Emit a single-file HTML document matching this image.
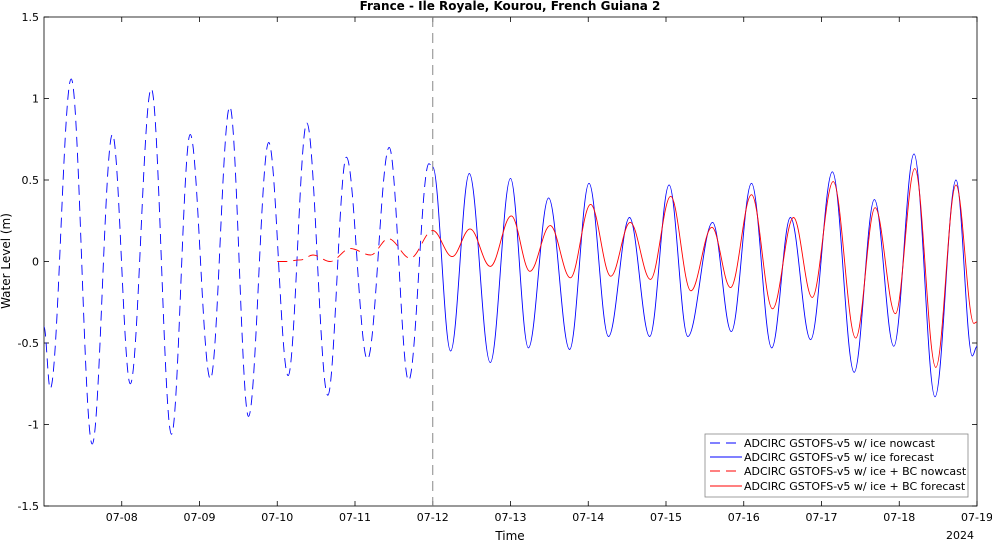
<!DOCTYPE html>
<html><head><meta charset="utf-8"><style>
body{margin:0;background:#fff;font-family:"Liberation Sans",sans-serif}
svg text{font-family:"DejaVu Sans","Liberation Sans",sans-serif;font-size:11px}
</style></head><body>
<svg id="c" width="992" height="541" xmlns="http://www.w3.org/2000/svg">
<rect x="44" y="17" width="933" height="489" fill="#fff" stroke="#000" stroke-width="0.8"/>
<text x="510" y="10" text-anchor="middle" font-weight="bold" style="font-size:12px">France - Ile Royale, Kourou, French Guiana 2</text>
<text x="510" y="540" text-anchor="middle" style="font-size:12px">Time</text>
<text x="960" y="539" text-anchor="middle">2024</text>
<text transform="translate(10,261) rotate(-90)" text-anchor="middle" style="font-size:12px">Water Level (m)</text>
<g id="ticks"></g><g id="series"></g>
<g>
<rect x="705" y="434" width="263" height="63" fill="#fff" stroke="#888" stroke-width="0.8"/>
<line x1="710" y1="443" x2="742" y2="443" stroke="#00f" stroke-dasharray="10,6"/><text x="744" y="447">ADCIRC GSTOFS-v5 w/ ice nowcast</text>
<line x1="710" y1="457" x2="742" y2="457" stroke="#00f"/><text x="744" y="461">ADCIRC GSTOFS-v5 w/ ice forecast</text>
<line x1="710" y1="471" x2="742" y2="471" stroke="#f00" stroke-dasharray="10,6"/><text x="744" y="475">ADCIRC GSTOFS-v5 w/ ice + BC nowcast</text>
<line x1="710" y1="486" x2="742" y2="486" stroke="#f00"/><text x="744" y="490">ADCIRC GSTOFS-v5 w/ ice + BC forecast</text>
</g>
</svg>
<script>
const xTickLabels=["07-08","07-09","07-10","07-11","07-12","07-13","07-14","07-15","07-16","07-17","07-18","07-19"];
const yTicks=[-1.5,-1,-0.5,0,0.5,1,1.5];
const yTickLabels=["-1.5","-1","-0.5","0","0.5","1","1.5"];
// extrema times (pixel-read, days since 07-07) and values (m)
const iceNowT=[0,0.08,0.35,0.62,0.88,1.11,1.38,1.64,1.88,2.14,2.39,2.63,2.89,3.14,3.38,3.65,3.89,4.16,4.44,4.69,4.95,5.0];
const iceNowV=[-0.40,-0.78,1.12,-1.12,0.78,-0.75,1.06,-1.06,0.78,-0.72,0.95,-0.95,0.73,-0.70,0.85,-0.82,0.64,-0.60,0.70,-0.73,0.60,0.58];
const iceFcT=[5.0,5.23,5.47,5.74,6.0,6.23,6.49,6.76,7.01,7.26,7.53,7.79,8.04,8.28,8.60,8.84,9.10,9.36,9.60,9.86,10.14,10.42,10.68,10.93,11.19,11.46,11.73,11.94,12.0];
const iceFcV=[0.58,-0.55,0.54,-0.62,0.51,-0.53,0.39,-0.54,0.48,-0.46,0.27,-0.46,0.47,-0.46,0.24,-0.43,0.48,-0.53,0.27,-0.48,0.55,-0.68,0.38,-0.52,0.66,-0.83,0.50,-0.58,-0.52];
const bcNowT=[3.0,3.1,3.3,3.46,3.68,3.94,4.2,4.43,4.71,5.0];
const bcNowV=[0.0,0.0,0.01,0.04,0.0,0.08,0.04,0.14,0.02,0.19];
const bcFcT=[5.0,5.25,5.48,5.74,6.01,6.25,6.51,6.77,7.03,7.29,7.54,7.80,8.06,8.32,8.59,8.83,9.10,9.37,9.64,9.88,10.15,10.44,10.69,10.95,11.20,11.47,11.73,11.96,12.0];
const bcFcV=[0.19,0.03,0.20,-0.03,0.28,-0.06,0.22,-0.10,0.35,-0.09,0.24,-0.11,0.40,-0.18,0.21,-0.16,0.41,-0.29,0.27,-0.22,0.49,-0.47,0.33,-0.32,0.57,-0.65,0.47,-0.38,-0.37];
const X0=44,X1=977,Y0=17,Y1=506;
const xs=d=>X0+(X1-X0)*d/12;
const ys=v=>Y0+(Y1-Y0)*(1.5-v)/3;
const NS="http://www.w3.org/2000/svg";
const tk=document.getElementById('ticks');
function mk(tag,attrs,parent){const e=document.createElementNS(NS,tag);for(const k in attrs)e.setAttribute(k,attrs[k]);parent.appendChild(e);return e;}
xTickLabels.forEach((l,i)=>{const x=xs(i+1);
 const a=mk('line',{x1:x,y1:Y1,x2:x,y2:Y1-5,stroke:'#000','stroke-width':0.8},tk);
 
 
 const b=mk('line',{x1:x,y1:Y0,x2:x,y2:Y0+5,stroke:'#000','stroke-width':0.8},tk);
 
 
 const t=mk('text',{x:x,y:Y1+15,'text-anchor':'middle'},tk);t.textContent=l;
 
 });
yTicks.forEach((v,i)=>{const y=ys(v);
 const a=mk('line',{x1:X0,y1:y,x2:X0+5,y2:y,stroke:'#000','stroke-width':0.8},tk);
 
 
 const b=mk('line',{x1:X1,y1:y,x2:X1-5,y2:y,stroke:'#000','stroke-width':0.8},tk);
 
 
 const t=mk('text',{x:X0-5,y:y+4,'text-anchor':'end'},tk);t.textContent=yTickLabels[i];
 
 });
const sg=document.getElementById('series');
const nl=mk('line',{x1:xs(5),y1:Y0,x2:xs(5),y2:Y1,stroke:'#888','stroke-dasharray':'10,6','stroke-width':1},sg);


function path(T,V){let d='M'+xs(T[0]).toFixed(1)+','+ys(V[0]).toFixed(1);
 for(let i=1;i<T.length;i++){const x0=xs(T[i-1]),x1=xs(T[i]),y0=ys(V[i-1]),y1=ys(V[i]),dx=(x1-x0)*0.36;
  d+=' C'+(x0+dx).toFixed(1)+','+y0.toFixed(1)+' '+(x1-dx).toFixed(1)+','+y1.toFixed(1)+' '+x1.toFixed(1)+','+y1.toFixed(1);}
 return d;}
function draw(T,V,col,dash,name){const p=mk('path',{d:path(T,V),fill:'none',stroke:col,'stroke-width':0.9},sg);
 if(dash)p.setAttribute('stroke-dasharray',dash);
 
 }
draw(iceNowT,iceNowV,'#00f','10,6','ice-nowcast-line');
draw(iceFcT,iceFcV,'#00f',null,'ice-forecast-line');
draw(bcNowT,bcNowV,'#f00','10,6','bc-nowcast-line');
draw(bcFcT,bcFcV,'#f00',null,'bc-forecast-line');
</script>
</body></html>
